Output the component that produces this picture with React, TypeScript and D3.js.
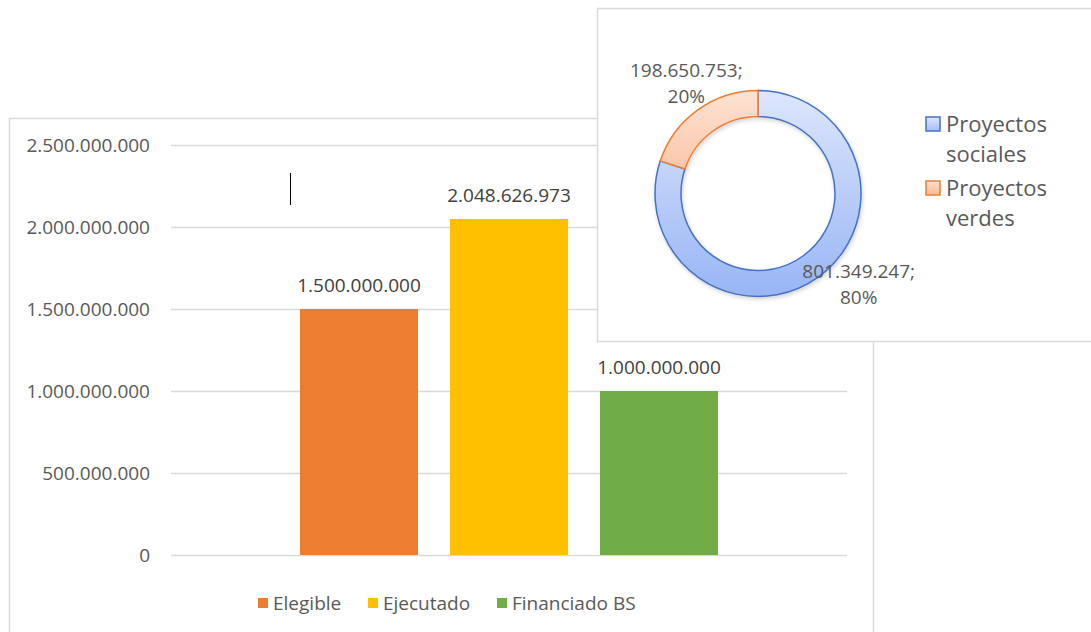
import React from "react";
import * as d3 from "d3";

const seriesNames = ["Elegible", "Ejecutado", "Financiado BS"];
const seriesValues = [1500000000, 2048626973, 1000000000];
const seriesColors = ["#ed7d31", "#ffc000", "#70ad47"];
const yTicks = [0, 500000000, 1000000000, 1500000000, 2000000000, 2500000000];

const pieNames = ["Proyectos sociales", "Proyectos verdes"];
const pieLegendLines = [["Proyectos", "sociales"], ["Proyectos", "verdes"]];
const pieValues = [801349247, 198650753];
const pieStroke = ["#4472c4", "#ed7d31"];

const W = 1091;
const H = 632;
const FONT = "'Open Sans', 'Noto Sans', sans-serif";

const fmt = (v: number) => {
  const s = Math.round(v).toString();
  return s.replace(/\B(?=(\d{3})+(?!\d))/g, ".");
};

export default function App() {
  // Bar chart
  const plotLeft = 171;
  const plotRight = 847;
  const y = d3.scaleLinear().domain([0, 2500000000]).range([555, 145]);
  const outer = d3.scaleBand().domain(["g"]).range([plotLeft, plotRight]).paddingOuter(0.3086).paddingInner(0);
  const inner = d3
    .scaleBand()
    .domain(seriesNames)
    .range([outer("g")!, outer("g")! + outer.bandwidth()])
    .paddingInner(0.2133)
    .paddingOuter(0);

  // Donut
  const cx = 758;
  const cy = 193.5;
  const rOuter = 103;
  const rInner = 77;
  const pie = d3.pie<number>().sort(null).value((d) => d)(pieValues);
  const arc = d3.arc<d3.PieArcDatum<number>>().innerRadius(rInner).outerRadius(rOuter);
  const labelArc = d3.arc<d3.PieArcDatum<number>>().innerRadius(133).outerRadius(133);
  const total = d3.sum(pieValues);
  const labelOffsets = [
    [23, -18],
    [6, -3],
  ];

  const legendX = [258, 368, 497];

  return (
    <svg
      width={W}
      height={H}
      style={{ position: "absolute", left: 0, top: 0, background: "#fff" }}
      fontFamily={FONT}
    >
      <defs>
        <linearGradient id="gBlue" gradientUnits="userSpaceOnUse" x1="0" y1={-rOuter} x2="0" y2={rOuter}>
          <stop offset="0" stopColor="#dde6fc" />
          <stop offset="1" stopColor="#98b5f5" />
        </linearGradient>
        <linearGradient id="gOrange" gradientUnits="userSpaceOnUse" x1="0" y1={-rOuter} x2="0" y2={rOuter}>
          <stop offset="0" stopColor="#fee2d3" />
          <stop offset="1" stopColor="#f39a66" />
        </linearGradient>
        <linearGradient id="lBlue" x1="0" y1="0" x2="0" y2="1">
          <stop offset="0" stopColor="#dde6fc" />
          <stop offset="1" stopColor="#a5bff6" />
        </linearGradient>
        <linearGradient id="lOrange" x1="0" y1="0" x2="0" y2="1">
          <stop offset="0" stopColor="#fee2d3" />
          <stop offset="1" stopColor="#f9b990" />
        </linearGradient>
        <filter id="shadow" x="-20%" y="-20%" width="140%" height="140%">
          <feDropShadow dx="1" dy="2" stdDeviation="2" floodColor="#000" floodOpacity="0.18" />
        </filter>
      </defs>

      {/* Bar chart frame */}
      <rect x={9.5} y={118.5} width={864} height={600} fill="#fff" stroke="#d9d9d9" strokeWidth={1.5} />

      {yTicks.map((t) => (
        <g key={t}>
          <line x1={plotLeft} x2={plotRight} y1={Math.round(y(t)) + 0.5} y2={Math.round(y(t)) + 0.5} stroke="#d9d9d9" strokeWidth={1.5} />
          <text x={150} y={y(t)} dy="0.35em" textAnchor="end" fontSize={19} fill="#595959">
            {fmt(t)}
          </text>
        </g>
      ))}

      {seriesNames.map((n, i) => (
        <g key={n}>
          <rect
            x={inner(n)!}
            y={y(seriesValues[i])}
            width={inner.bandwidth()}
            height={y(0) - y(seriesValues[i])}
            fill={seriesColors[i]}
          />
          <text
            x={inner(n)! + inner.bandwidth() / 2}
            y={y(seriesValues[i]) - 17}
            textAnchor="middle"
            fontSize={19}
            fill="#404040"
          >
            {fmt(seriesValues[i])}
          </text>
        </g>
      ))}

      {/* text cursor artifact */}
      <line x1={290.5} x2={290.5} y1={173} y2={205} stroke="#000" strokeWidth={1} />

      {seriesNames.map((n, i) => (
        <g key={"lg" + n}>
          <rect x={legendX[i]} y={598} width={10} height={10} fill={seriesColors[i]} />
          <text x={legendX[i] + 15} y={603} dy="0.35em" fontSize={19} fill="#595959">
            {n}
          </text>
        </g>
      ))}

      {/* Donut frame */}
      <rect x={597.5} y={8.5} width={600} height={333} fill="#fff" stroke="#d9d9d9" strokeWidth={1.5} />

      <g transform={`translate(${cx},${cy})`} filter="url(#shadow)">
        {pie.map((p, i) => (
          <path
            key={i}
            d={arc(p)!}
            fill={i === 0 ? "url(#gBlue)" : "url(#gOrange)"}
            stroke={pieStroke[i]}
            strokeWidth={1.5}
          />
        ))}
      </g>
      {pie.map((p, i) => {
        const [lx, ly] = labelArc.centroid(p);
        const x = cx + lx + labelOffsets[i][0];
        const yy = cy + ly + labelOffsets[i][1];
        return (
          <text key={"pl" + i} x={x} y={yy} textAnchor="middle" fontSize={19} fill="#595959">
            <tspan x={x} dy="-0.3em">{fmt(pieValues[i]) + ";"}</tspan>
            <tspan x={x} dy="1.4em">{Math.round((pieValues[i] / total) * 100) + "%"}</tspan>
          </text>
        );
      })}

      {pieNames.map((n, i) => (
        <g key={"pn" + n}>
          <rect
            x={926}
            y={117 + i * 64}
            width={14}
            height={14}
            fill={i === 0 ? "url(#lBlue)" : "url(#lOrange)"}
            stroke={pieStroke[i]}
            strokeWidth={1.5}
          />
          <text fontSize={22} fill="#595959">
            {pieLegendLines[i].map((line, j) => (
              <tspan key={j} x={946} y={132 + i * 64 + j * 30}>
                {line}
              </tspan>
            ))}
          </text>
        </g>
      ))}
    </svg>
  );
}
